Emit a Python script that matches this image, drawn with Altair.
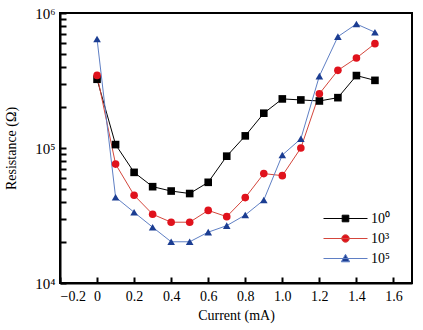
import altair as alt
import pandas as pd

current = [0.0, 0.1, 0.2, 0.3, 0.4, 0.5, 0.6, 0.7, 0.8, 0.9, 1.0, 1.1, 1.2, 1.3, 1.4, 1.5]
r_1e0 = [323e3, 106e3, 66e3, 51.7e3, 48e3, 46e3, 55.7e3, 87e3, 123e3, 181e3,
         231e3, 227e3, 223e3, 236e3, 344e3, 317e3]
r_1e3 = [345e3, 76e3, 44.7e3, 32.3e3, 28.2e3, 28.2e3, 34.5e3, 31e3, 42.9e3, 64.6e3,
         62.4e3, 100e3, 252e3, 376e3, 464e3, 593e3]
r_1e5 = [641e3, 43.2e3, 33.4e3, 25.9e3, 20.2e3, 20.2e3, 23.8e3, 26.6e3, 31.9e3, 41.2e3,
         88.7e3, 117e3, 341e3, 668e3, 829e3, 720e3]
series_names = ["10⁰", "10³", "10⁵"]
y_ticks = [1e4, 2e4, 3e4, 4e4, 5e4, 6e4, 7e4, 8e4, 9e4,
           1e5, 2e5, 3e5, 4e5, 5e5, 6e5, 7e5, 8e5, 9e5, 1e6]
x_ticks = [-0.2, 0.0, 0.2, 0.4, 0.6, 0.8, 1.0, 1.2, 1.4, 1.6]

marker_colors = ["#000000", "#e0121c", "#1b3d92"]
line_colors = ["#000000", "#d4463c", "#5f7fc4"]
marker_shapes = ["square", "circle", "triangle-up"]
legend_shapes = [
    "M-2,0H2M-0.3,-0.3H0.3V0.3H-0.3Z",
    "M-2,0H2M-0.34,0A0.34,0.34 0 1,0 0.34,0A0.34,0.34 0 1,0 -0.34,0Z",
    "M-2,0H2M0,-0.38L0.38,0.3H-0.38Z",
]

rows = []
for name, vals in zip(series_names, [r_1e0, r_1e3, r_1e5]):
    for c, v in zip(current, vals):
        rows.append({"current": c, "resistance": v, "series": name})
df = pd.DataFrame(rows)

FONT = "Liberation Serif"


def xs():
    return alt.Scale(domain=[-0.2, 1.7], nice=False, zero=False)


def ys():
    return alt.Scale(type="log", domain=[1e4, 1e6], nice=False)


x_label_expr = "datum.value == 0 ? '0' : replace(format(datum.value, '.1f'), '-', '−')"
y_label_expr = ("datum.value == 10000 ? '10⁴' : datum.value == 100000 ? '10⁵' : "
                "datum.value == 1000000 ? '10⁶' : ''")

base = alt.Chart(df)

lines = base.mark_line(strokeWidth=1).encode(
    x=alt.X("current:Q", scale=xs(),
            axis=alt.Axis(title="Current (mA)", values=x_ticks, labelExpr=x_label_expr,
                          tickSize=alt.ExprRef(expr="-6"), tickWidth=2, tickColor="black",
                          ticks=True, tickOpacity=1,
                          labelPadding=12, titlePadding=5, zindex=2, labelFontSize=14,
                          domainColor="black", domainWidth=2, grid=False)),
    y=alt.Y("resistance:Q", scale=ys(),
            axis=alt.Axis(title="Resistance (Ω)", values=y_ticks,
                          labelExpr=y_label_expr, labelFontSize=15,
                          tickSize=alt.ExprRef(expr="-6"), tickWidth=2, tickColor="black",
                          ticks=True, tickOpacity=1,
                          labelPadding=11, titlePadding=16, zindex=2,
                          domainColor="black", domainWidth=2, grid=False)),
    color=alt.Color("series:N", scale=alt.Scale(domain=series_names, range=line_colors),
                    legend=None),
    detail="series:N",
)

points = base.mark_point(filled=True, opacity=1).encode(
    x=alt.X("current:Q", scale=xs(), axis=None),
    y=alt.Y("resistance:Q", scale=ys(), axis=None),
    color=alt.Color("series:N", scale=alt.Scale(domain=series_names, range=marker_colors),
                    legend=None),
    shape=alt.Shape("series:N", scale=alt.Scale(domain=series_names, range=marker_shapes),
                    legend=None),
    size=alt.value(58),
)

legend_layer = base.transform_filter("datum.current > 99").mark_point(
    filled=True, opacity=1, strokeWidth=1
).encode(
    x=alt.X("current:Q", scale=xs(), axis=None),
    y=alt.Y("resistance:Q", scale=ys(), axis=None),
    color=alt.Color("series:N", scale=alt.Scale(domain=series_names, range=marker_colors),
                    legend=alt.Legend(title=None)),
    stroke=alt.Stroke("series:N", scale=alt.Scale(domain=series_names, range=line_colors),
                      legend=alt.Legend(title=None)),
    shape=alt.Shape("series:N", scale=alt.Scale(domain=series_names, range=legend_shapes),
                    legend=alt.Legend(title=None)),
)

chart = alt.layer(lines, points, legend_layer).resolve_scale(
    x="independent", y="independent",
    color="independent", shape="independent", stroke="independent",
).resolve_axis(
    x="independent", y="independent"
).properties(
    width=352, height=270,
    padding={"left": 60, "top": 13, "right": 11, "bottom": 47},
    autosize="none",
).configure_view(
    stroke="black", strokeWidth=2
).configure_axis(
    labelFont=FONT, titleFont=FONT, titleFontSize=14,
    labelColor="black", titleColor="black", titleFontWeight="normal",
).configure_legend(
    orient="none", legendX=274, legendY=194, padding=0,
    symbolSize=484, symbolStrokeWidth=1, labelFont=FONT, labelFontSize=14,
    labelColor="black", labelOffset=14, rowPadding=1, symbolOpacity=1,
)

chart.save("out.html", embed_options={"renderer": "svg", "actions": False})
